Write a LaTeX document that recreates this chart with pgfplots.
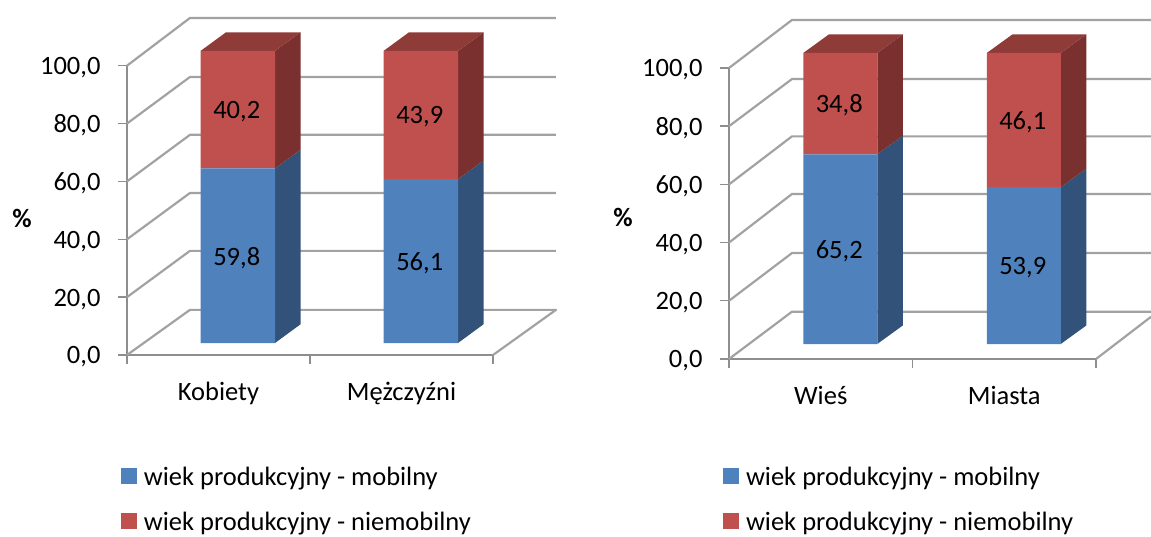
\documentclass[border=0pt]{standalone}
\usepackage{fontspec}
\setmainfont{Carlito}
\usepackage{pgfplots}
\usepackage{pgfplotstable}
\pgfplotsset{compat=1.18}
\definecolor{cblue}{HTML}{4F81BD}
\definecolor{cred}{HTML}{C0504D}
\definecolor{sblue}{HTML}{325279}
\definecolor{sred}{HTML}{79302E}
\definecolor{tred}{HTML}{8F3B38}
\definecolor{gridg}{HTML}{A2A2A2}
\definecolor{axisg}{HTML}{8E8E8E}
\pgfplotstableread{
x v lab
0.5 59.8 {59,8}
1.5 56.1 {56,1}
}\tabAmob
\pgfplotstableread{
x v lab
0.5 40.2 {40,2}
1.5 43.9 {43,9}
}\tabAnie
\pgfplotstableread{
x v lab
0.5 65.2 {65,2}
1.5 53.9 {53,9}
}\tabBmob
\pgfplotstableread{
x v lab
0.5 34.8 {34,8}
1.5 46.1 {46,1}
}\tabBnie
\newcommand{\chartfont}{\fontsize{26.5}{30}\selectfont}
\pgfplotsset{
  wallaxis/.style={
    scale only axis, clip=false, xmin=0, xmax=2, ymin=0, ymax=100,
    axis x line=bottom, axis y line=left,
    axis line style={-, draw=axisg, line width=2pt},
    tick align=outside, major tick length=9pt,
    ytick={0,20,40,60,80,100},
    yticklabels={{0,0},{20,0},{40,0},{60,0},{80,0},{100,0}},
    ytick style={draw=axisg, line width=1.4pt},
    xtick={0.5,1.5},
    xtick style={draw=none},
    extra x ticks={0,1,2},
    extra x tick labels={},
    extra x tick style={xtick style={draw=axisg, line width=1.4pt}},
    tick label style={font=\chartfont},
    yticklabel style={xshift=-14pt, yshift=-2pt},
    xticklabel style={yshift=-15pt},
    ylabel={\textbf{\%}},
    label style={font=\chartfont},
  },
  hiddenaxis/.style={
    scale only axis, clip=false, xmin=0, xmax=2, ymin=0, ymax=100, hide axis,
  },
  gridl/.style={draw=gridg, line width=2.2pt, line join=round, forget plot},
  face/.style={draw=none, forget plot},
  stackaxis/.style={
    hiddenaxis, ybar stacked, bar width=74.5pt,
    legend cell align=left,
    legend image code/.code={\path[fill=none,draw=none] (0pt,0pt) rectangle (22pt,1pt);\fill[##1] (0pt,-7pt) rectangle (16pt,9pt);},
    legend style={draw=none, fill=none, font=\chartfont, anchor=north west,
      row sep=23pt, inner sep=0pt, nodes={inner sep=1pt}},
    nodes near coords, point meta=explicit symbolic,
    nodes near coords style={font=\chartfont, text=black, xshift=-1pt, yshift=-2pt},
  },
}
\begin{document}
\begin{tikzpicture}
\path[use as bounding box] (0pt,0pt) rectangle (1151pt,536pt);
% ---------- left chart: walls
\begin{axis}[wallaxis, at={(127pt,181pt)}, width=366pt, height=289.3pt,
  xticklabels={Kobiety,Mężczyźni},
  y label style={at={(axis description cs:-0.287,0.473)}, rotate=-90, anchor=center}]
\addplot[gridl] coordinates {(0,0)(0.344,15.6)(2.344,15.6)(2,0)};
\addplot[gridl] coordinates {(0,20)(0.344,36)(2.344,36)};
\addplot[gridl] coordinates {(0,40)(0.344,56)(2.344,56)};
\addplot[gridl] coordinates {(0,60)(0.344,76.1)(2.344,76.1)};
\addplot[gridl] coordinates {(0,80)(0.344,96.1)(2.344,96.1)};
\addplot[gridl] coordinates {(0,100)(0.344,116.5)(2.344,116.5)};
\end{axis}
% ---------- left chart: side and top faces of the bars
\begin{axis}[hiddenaxis, at={(146.25pt,193pt)}, width=366pt, height=292pt]
\addplot[face, fill=sblue] coordinates {(0.7036,0)(0.8429,6.4)(0.8429,66.2)(0.7036,59.8)} --cycle;
\addplot[face, fill=sred] coordinates {(0.7036,59.8)(0.8429,66.2)(0.8429,106.4)(0.7036,100)} --cycle;
\addplot[face, fill=tred] coordinates {(0.2964,100)(0.4357,106.4)(0.8429,106.4)(0.7036,100)} --cycle;
\addplot[face, fill=sblue] coordinates {(1.7036,0)(1.8429,6.4)(1.8429,62.5)(1.7036,56.1)} --cycle;
\addplot[face, fill=sred] coordinates {(1.7036,56.1)(1.8429,62.5)(1.8429,106.4)(1.7036,100)} --cycle;
\addplot[face, fill=tred] coordinates {(1.2964,100)(1.4357,106.4)(1.8429,106.4)(1.7036,100)} --cycle;
\end{axis}
% ---------- left chart: bars
\begin{axis}[stackaxis, at={(146.25pt,193pt)}, width=366pt, height=292pt,
  legend style={at={(axis description cs:-0.07,-0.42)}}]
\addplot[fill=cblue, draw=none] table[x=x, y=v, meta=lab] {\tabAmob};
\addlegendentry{wiek produkcyjny - mobilny}
\addplot[fill=cred, draw=none] table[x=x, y=v, meta=lab] {\tabAnie};
\addlegendentry{wiek produkcyjny - niemobilny}
\end{axis}
% ---------- right chart: walls
\begin{axis}[wallaxis, at={(729pt,177pt)}, width=367pt, height=291pt,
  xticklabels={Wieś,Miasta},
  y label style={at={(axis description cs:-0.289,0.485)}, rotate=-90, anchor=center}]
\addplot[gridl] coordinates {(0,0)(0.343,16.25)(2.2997,16.25)};
\addplot[gridl] coordinates {(2,0)(2.2997,14.5)};
\addplot[gridl] coordinates {(0,20)(0.343,36.4)(2.2997,36.4)};
\addplot[gridl] coordinates {(0,40)(0.343,56.7)(2.2997,56.7)};
\addplot[gridl] coordinates {(0,60)(0.343,76.5)(2.2997,76.5)};
\addplot[gridl] coordinates {(0,80)(0.343,96.2)(2.2997,96.2)};
\addplot[gridl] coordinates {(0,100)(0.343,116.5)(2.2997,116.5)};
\end{axis}
% ---------- right chart: side and top faces of the bars
\begin{axis}[hiddenaxis, at={(748.5pt,192pt)}, width=367pt, height=291pt]
\addplot[face, fill=sblue] coordinates {(0.7016,0)(0.8416,6.4)(0.8416,71.6)(0.7016,65.2)} --cycle;
\addplot[face, fill=sred] coordinates {(0.7016,65.2)(0.8416,71.6)(0.8416,106.4)(0.7016,100)} --cycle;
\addplot[face, fill=tred] coordinates {(0.2984,100)(0.4384,106.4)(0.8416,106.4)(0.7016,100)} --cycle;
\addplot[face, fill=sblue] coordinates {(1.7016,0)(1.8416,6.4)(1.8416,60.3)(1.7016,53.9)} --cycle;
\addplot[face, fill=sred] coordinates {(1.7016,53.9)(1.8416,60.3)(1.8416,106.4)(1.7016,100)} --cycle;
\addplot[face, fill=tred] coordinates {(1.2984,100)(1.4384,106.4)(1.8416,106.4)(1.7016,100)} --cycle;
\end{axis}
% ---------- right chart: bars
\begin{axis}[stackaxis, at={(748.5pt,192pt)}, width=367pt, height=291pt,
  bar width=74pt,
  legend style={at={(axis description cs:-0.07,-0.42)}}]
\addplot[fill=cblue, draw=none] table[x=x, y=v, meta=lab] {\tabBmob};
\addlegendentry{wiek produkcyjny - mobilny}
\addplot[fill=cred, draw=none] table[x=x, y=v, meta=lab] {\tabBnie};
\addlegendentry{wiek produkcyjny - niemobilny}
\end{axis}
\end{tikzpicture}
\end{document}
